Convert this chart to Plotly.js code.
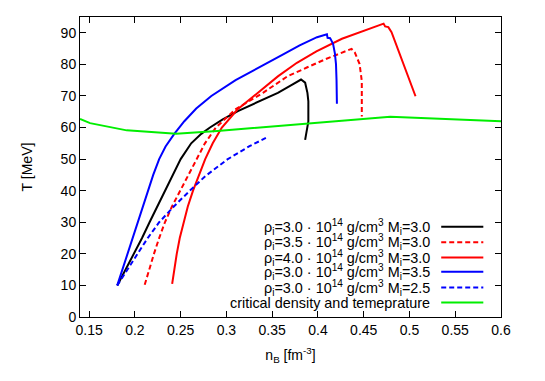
<!DOCTYPE html>
<html>
<head>
<meta charset="utf-8">
<script src="https://cdn.plot.ly/plotly-3.0.1.min.js"></script>
<style>html,body{margin:0;padding:0;background:#fff;}#chart{width:545px;height:381px;}</style>
</head>
<body>
<div id="chart"></div>
<script>
// ---- data ----
const blackN = [0.1807, 0.190, 0.1993, 0.2078, 0.2160, 0.2243, 0.2330, 0.2415, 0.2500, 0.2615, 0.2725, 0.2820, 0.2955, 0.3125, 0.3321, 0.3562, 0.370, 0.3815, 0.3860, 0.3885, 0.3895, 0.3895, 0.3860];
const blackT = [10, 15, 20, 25, 30, 35, 40, 45, 50, 55, 58, 60, 62.5, 65.2, 67.8, 71, 73.3, 75.2, 74.2, 71, 68.3, 61.9, 56.1];

const redDashN = [0.2107, 0.2155, 0.2208, 0.2265, 0.2328, 0.2405, 0.2495, 0.2585, 0.2670, 0.2765, 0.2885, 0.3095, 0.3400, 0.3666, 0.3878, 0.4087, 0.4367, 0.4402, 0.4455, 0.4479, 0.4479];
const redDashT = [10.2, 15, 20, 25, 30, 35, 40, 45, 50, 55, 60, 65.7, 71, 76.2, 79, 81.7, 84.9, 83.8, 80.1, 74.7, 63.5];

const redN = [0.2407, 0.2430, 0.2457, 0.2490, 0.2530, 0.2578, 0.2635, 0.2698, 0.2768, 0.2850, 0.2950, 0.3120, 0.3345, 0.3562, 0.377, 0.3983, 0.4262, 0.4507, 0.4717, 0.4734, 0.4769, 0.4804, 0.5066];
const redT = [10.5, 15, 20, 25, 30, 35, 40, 45, 50, 55, 60, 65.7, 71, 76.2, 80.5, 84.1, 88.1, 90.7, 92.9, 92.0, 91.8, 90.2, 69.9];

const blueN = [0.1807, 0.1862, 0.1917, 0.1972, 0.2027, 0.2082, 0.2140, 0.2200, 0.2265, 0.2335, 0.2430, 0.2540, 0.2670, 0.2835, 0.3100, 0.3410, 0.3610, 0.3800, 0.3990, 0.4098, 0.4105, 0.4133, 0.4165, 0.4185, 0.4197, 0.4203, 0.4207];
const blueT = [10, 15, 20, 25, 30, 35, 40, 45, 50, 54, 58, 62, 66, 70, 75, 80, 83, 86, 88.6, 89.5, 88.4, 88.3, 86.5, 83.5, 80.1, 75, 67.5];

const blueDashN = [0.1807, 0.1915, 0.2025, 0.2140, 0.2265, 0.2425, 0.2600, 0.2769, 0.3010, 0.3252, 0.3431];
const blueDashT = [10, 15, 20, 25, 30, 35, 40, 44.6, 49.9, 54.1, 56.7];

const critN = [0.14, 0.151, 0.191, 0.245, 0.290, 0.479, 0.6];
const critT = [62.7, 61.4, 59.1, 58.0, 58.9, 63.4, 62.0];

const labels = [
  'ρ<sub>i</sub>=3.0 · 10<sup>14</sup> g/cm<sup>3</sup> M<sub>i</sub>=3.0',
  'ρ<sub>i</sub>=3.5 · 10<sup>14</sup> g/cm<sup>3</sup> M<sub>i</sub>=3.0',
  'ρ<sub>i</sub>=4.0 · 10<sup>14</sup> g/cm<sup>3</sup> M<sub>i</sub>=3.0',
  'ρ<sub>i</sub>=3.0 · 10<sup>14</sup> g/cm<sup>3</sup> M<sub>i</sub>=3.5',
  'ρ<sub>i</sub>=3.0 · 10<sup>14</sup> g/cm<sup>3</sup> M<sub>i</sub>=2.5',
  'critical density and temeprature'
];
const xTicks = [0.15, 0.2, 0.25, 0.3, 0.35, 0.4, 0.45, 0.5, 0.55, 0.6];
const xTickText = ['0.15', '0.2', '0.25', '0.3', '0.35', '0.4', '0.45', '0.5', '0.55', '0.6'];
const yTicks = [0, 10, 20, 30, 40, 50, 60, 70, 80, 90];

// ---- styles ----
const series = [
  {x: blackN, y: blackT, color: '#000000', dash: 'solid'},
  {x: redDashN, y: redDashT, color: '#ff0000', dash: '5px,3px'},
  {x: redN, y: redT, color: '#ff0000', dash: 'solid'},
  {x: blueN, y: blueT, color: '#0000ff', dash: 'solid'},
  {x: blueDashN, y: blueDashT, color: '#0000ff', dash: '5px,3px'},
  {x: critN, y: critT, color: '#00ee00', dash: 'solid'}
];

const traces = series.map((s, i) => ({
  type: 'scatter', mode: 'lines', x: s.x, y: s.y, name: labels[i],
  line: {color: s.color, width: 2, dash: s.dash},
  showlegend: false, hoverinfo: 'skip'
}));

const font = {family: 'Liberation Sans, Arial, sans-serif', size: 14, color: '#000'};
const legFont = {family: 'Liberation Sans, Arial, sans-serif', size: 14.4, color: '#000'};
const rowY = [0.301, 0.249, 0.198, 0.151, 0.098, 0.048];
const annotations = labels.map((t, i) => ({
  xref: 'paper', yref: 'paper', x: 0.837, y: rowY[i], xanchor: 'right', yanchor: 'middle',
  text: t, showarrow: false, font: legFont
}));
const shapes = series.map((s, i) => ({
  type: 'line', xref: 'paper', yref: 'paper', x0: 0.858, x1: 0.958, y0: rowY[i], y1: rowY[i],
  line: {color: s.color, width: 2, dash: s.dash}
}));

const axisCommon = {
  showline: true, mirror: 'ticks', linecolor: '#000', linewidth: 1,
  ticks: 'inside', ticklen: 6, tickcolor: '#000', showgrid: false, zeroline: false,
  tickfont: font
};

const layout = {
  width: 545, height: 381,
  margin: {l: 80, r: 44, t: 17, b: 64},
  paper_bgcolor: '#fff', plot_bgcolor: '#fff',
  font: font,
  xaxis: Object.assign({}, axisCommon, {
    range: [0.14, 0.6], tickmode: 'array', tickvals: xTicks, ticktext: xTickText,
    title: {text: 'n<sub>B</sub> [fm<sup>-3</sup>]', font: font, standoff: 13}
  }),
  yaxis: Object.assign({}, axisCommon, {
    range: [0, 95], tickmode: 'array', tickvals: yTicks,
    title: {text: 'T [MeV]', font: font, standoff: 24}
  }),
  annotations: annotations,
  shapes: shapes
};

Plotly.newPlot('chart', traces, layout, {staticPlot: true, displayModeBar: false});
</script>
</body>
</html>
